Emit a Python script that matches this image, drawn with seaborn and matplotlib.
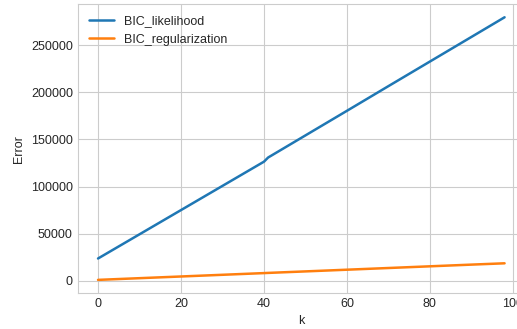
import matplotlib
matplotlib.use("Agg")
import matplotlib.pyplot as plt
import seaborn as sns
import pandas as pd

k_values = [0, 10, 20, 30, 40, 41, 50, 60, 70, 80, 90, 98]
bic_likelihood = [23600, 49300, 75000, 100700, 126400, 130800, 154300, 180400, 206600, 232700, 258800, 279700]
bic_regularization = [900, 2700, 4500, 6300, 8100, 8300, 9900, 11700, 13500, 15300, 17100, 18500]

sns.set_style("whitegrid", {"axes.edgecolor": ".8", "grid.color": ".8"})
plt.rcParams['font.family'] = ['Liberation Sans', 'DejaVu Sans']

df = pd.DataFrame({"k": k_values, "BIC_likelihood": bic_likelihood,
                   "BIC_regularization": bic_regularization})

fig = plt.figure(figsize=(5.17, 3.29), dpi=100)
ax = fig.add_axes([0.1503, 0.1094, 0.865, 0.878])

sns.lineplot(data=df, x="k", y="BIC_likelihood", ax=ax, color="#1f77b4",
             linewidth=1.8, label="BIC_likelihood")
sns.lineplot(data=df, x="k", y="BIC_regularization", ax=ax, color="#ff7f0e",
             linewidth=1.8, label="BIC_regularization")

ax.set_xlabel("k", fontsize=9, color=".15")
ax.set_ylabel("Error", fontsize=9, color=".15")
ax.set_xticks([0, 20, 40, 60, 80, 100])
ax.set_yticks([0, 50000, 100000, 150000, 200000, 250000])
ax.tick_params(labelsize=9, colors=".15", length=0)
for s in ax.spines.values():
    s.set_color(".8")
ax.legend(loc="upper left", frameon=False, fontsize=9)
ax.margins(x=0.05, y=0.05)

fig.savefig("out.png", dpi=100)
